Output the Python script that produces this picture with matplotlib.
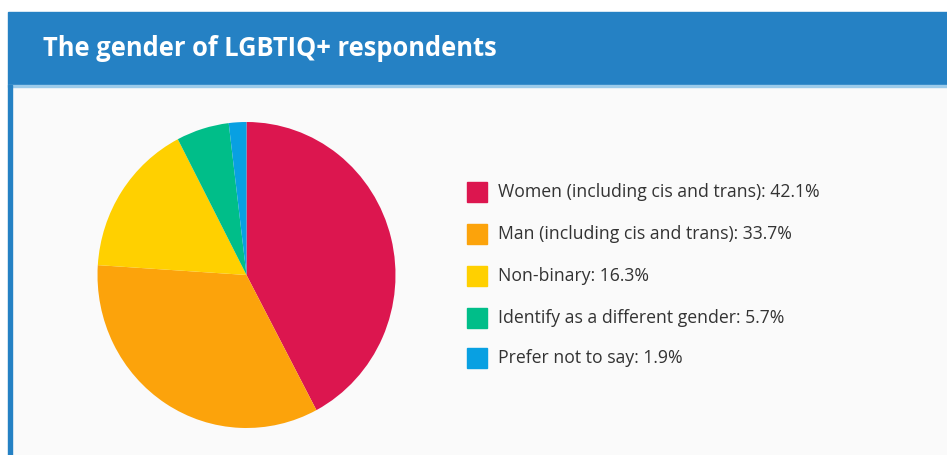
import matplotlib.pyplot as plt
from matplotlib.patches import Rectangle

labels = ["Women (including cis and trans)", "Man (including cis and trans)",
          "Non-binary", "Identify as a different gender", "Prefer not to say"]
shares = [42.1, 33.7, 16.3, 5.7, 1.9]
colors = ["#DC164F", "#FCA30B", "#FFD000", "#00BE89", "#08A0E2"]
title = "The gender of LGBTIQ+ respondents"

W, H = 947, 455
fig = plt.figure(figsize=(W / 100, H / 100), dpi=100)
fig.patch.set_facecolor("white")

# background panel, header bar and left border (pixel coords, top origin)
def px_rect(x0, y0, x1, y1, color, z=-1):
    fig.patches.append(Rectangle((x0 / W, 1 - y1 / H), (x1 - x0) / W, (y1 - y0) / H,
                                 transform=fig.transFigure, color=color, zorder=z))

px_rect(8, 85, W, H, "#FAFAFA")
px_rect(8, 12, W, 85, "#2581C4")
px_rect(8, 85, W, 87, "#9CCBEA")
px_rect(8, 85, 12, H, "#2581C4")

fig.text(43 / W, 1 - 48 / H, title, color="white", fontsize=18.4, fontweight="bold",
         family="Open Sans", va="center", ha="left")

# pie (slightly taller than wide, as in the screenshot)
cx, cy, rx, ry = 246.5, 275, 149, 153
ax = fig.add_axes([(cx - rx) / W, 1 - (cy + ry) / H, 2 * rx / W, 2 * ry / H])
ax.pie(shares, colors=colors, startangle=90, counterclock=False, radius=1,
       wedgeprops=dict(linewidth=0))
ax.set_xlim(-1, 1)
ax.set_ylim(-1, 1)
ax.set_aspect("auto")
ax.axis("off")

# legend
row_y = [192, 234, 276, 318, 358]
for lab, val, col, y in zip(labels, shares, colors, row_y):
    px_rect(467, y - 10, 487, y + 10, col, z=2)
    fig.text(498 / W, 1 - y / H, f"{lab}: {val}%", color="#333333", fontsize=12.7,
             family="Open Sans", va="center", ha="left")

fig.savefig("out.png", dpi=100)
